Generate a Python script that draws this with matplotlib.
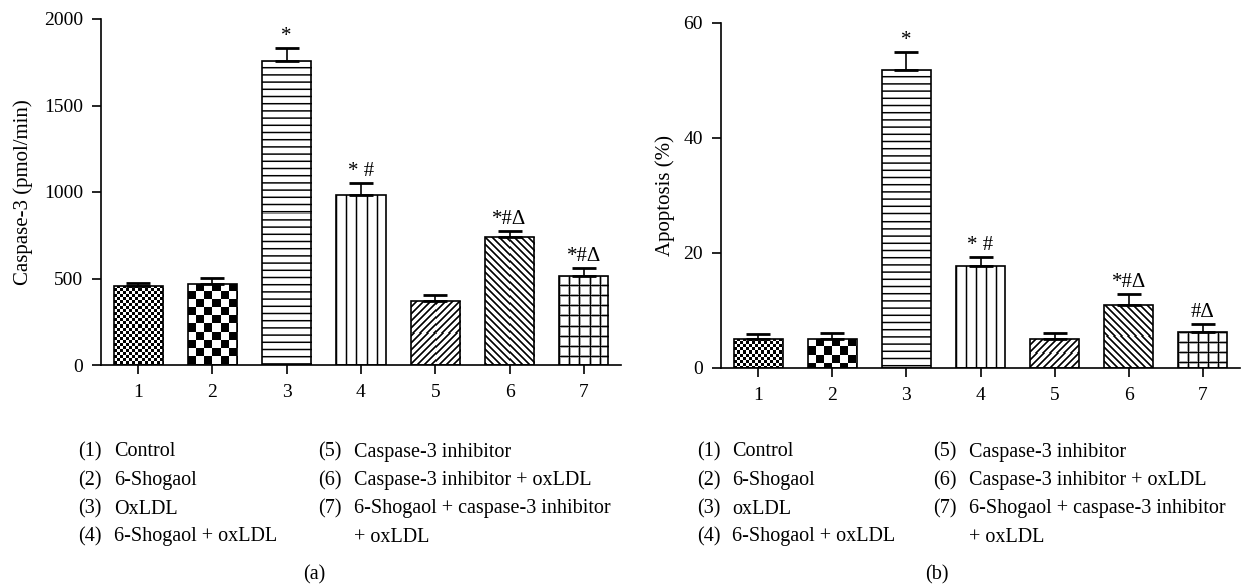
import numpy as np
import matplotlib
matplotlib.use("Agg")
import matplotlib.pyplot as plt

# ---------------- data ----------------
groups = ["1", "2", "3", "4", "5", "6", "7"]
caspase3 = [458, 471, 1760, 981, 371, 738, 517]
caspase3_err = [18, 31, 71, 69, 34, 36, 42]
caspase3_marks = ["", "", "*", "* #", "", "*#\u0394", "*#\u0394"]

apoptosis = [5.1, 5.1, 51.8, 17.8, 5.1, 11.0, 6.2]
apoptosis_err = [0.8, 0.9, 3.1, 1.5, 0.9, 1.9, 1.4]
apoptosis_marks = ["", "", "*", "* #", "", "*#\u0394", "#\u0394"]

legend_a = ["Control", "6-Shogaol", "OxLDL", "6-Shogaol + oxLDL",
            "Caspase-3 inhibitor", "Caspase-3 inhibitor + oxLDL",
            "6-Shogaol + caspase-3 inhibitor", "+ oxLDL"]
legend_b = ["Control", "6-Shogaol", "oxLDL", "6-Shogaol + oxLDL",
            "Caspase-3 inhibitor", "Caspase-3 inhibitor + oxLDL",
            "6-Shogaol + caspase-3 inhibitor", "+ oxLDL"]

patterns = ["checker_fine", "checker_coarse", "hlines", "vlines",
            "diag_up", "diag_down", "grid"]

FONT = ["Liberation Serif", "DejaVu Serif"]
plt.rcParams["font.family"] = FONT

W, H = 1241, 588
fig = plt.figure(figsize=(W / 100, H / 100), dpi=100)


def coverage(d, t=1.5):
    return np.clip(t / 2 + 0.5 - d, 0, 1)


def make_pattern(kind, w, h):
    jj, ii = np.meshgrid(np.arange(w) + 0.5, np.arange(h) + 0.5)
    if kind == "checker_fine":
        c = 3
        return ((np.floor(ii / c) + np.floor(jj / c)) % 2).astype(float)
    if kind == "checker_coarse":
        c = 8
        return ((np.floor(ii / c) + np.floor(jj / c)) % 2).astype(float)
    if kind == "hlines":
        s = 7.2
        p = (ii - 0.5) % s
        return coverage(np.minimum(p, s - p))
    if kind == "vlines":
        s = 10.0
        p = (jj - 0.5) % s
        return coverage(np.minimum(p, s - p))
    if kind == "diag_up":
        s = 7.0
        p = (jj + ii) % s
        return coverage(np.minimum(p, s - p) / np.sqrt(2), 1.8)
    if kind == "diag_down":
        s = 7.0
        p = (jj - ii) % s
        return coverage(np.minimum(p, s - p) / np.sqrt(2), 1.8)
    if kind == "grid":
        s = 10.0
        p1 = (jj - 0.5) % s
        p2 = (ii - 0.5) % s
        a = coverage(np.minimum(p1, s - p1), 1.7)
        b = coverage(np.minimum(p2, s - p2), 1.7)
        return np.maximum(a, b)
    return np.zeros((h, w))


def panel(rect, values, errs, marks, ylim, yticks, ylabel):
    ax = fig.add_axes(rect)
    x = np.arange(1, len(values) + 1)
    bars = ax.bar(x, values, width=0.66, facecolor="none", edgecolor="black",
                  linewidth=1.2, zorder=3)
    ax.errorbar(x, values, yerr=[np.zeros(len(errs)), errs], fmt="none",
                ecolor="black", elinewidth=1.2, capsize=8.5, capthick=2.0,
                zorder=2)
    ax.set_xlim(0.5, len(values) + 0.5)
    ax.set_ylim(*ylim)
    for patch, kind in zip(bars.patches, patterns):
        bb = patch.get_window_extent()
        w = max(int(round(bb.width)), 1)
        h = max(int(round(bb.height)), 1)
        arr = make_pattern(kind, w, h)
        x0, y0 = patch.get_x(), patch.get_y()
        im = ax.imshow(arr, extent=(x0, x0 + patch.get_width(), y0,
                                    y0 + patch.get_height()),
                       cmap="gray_r", vmin=0, vmax=1, interpolation="nearest",
                       aspect="auto", zorder=1)
        im.set_clip_path(patch)
    ax.set_xlim(0.5, len(values) + 0.5)
    ax.set_ylim(*ylim)
    for xi, v, e, m in zip(x, values, errs, marks):
        if m:
            ax.annotate(m, xy=(xi, v + e), xytext=(0, 1.5),
                        textcoords="offset points", ha="center", va="bottom",
                        fontsize=15, family=FONT)
    ax.set_xticks(x)
    ax.set_xticklabels(groups)
    ax.set_yticks(yticks)
    for s in ["top", "right"]:
        ax.spines[s].set_visible(False)
    for s in ["left", "bottom"]:
        ax.spines[s].set_linewidth(1.2)
    ax.tick_params(axis="both", length=6.5, width=1.2, labelsize=14,
                   direction="out")
    ax.tick_params(axis="x", pad=7)
    ax.tick_params(axis="y", pad=6.5)
    ax.set_ylabel(ylabel, fontsize=15)
    ax.patch.set_alpha(0)
    return ax


ax_a = panel([101 / W, 1 - 365 / H, 520 / W, 346 / H], caspase3, caspase3_err,
             caspase3_marks, (0, 2000), [0, 500, 1000, 1500, 2000],
             "Caspase-3 (pmol/min)")
ax_b = panel([721 / W, 1 - 368 / H, 519 / W, 345.5 / H], apoptosis,
             apoptosis_err, apoptosis_marks, (0, 60), [0, 20, 40, 60],
             "Apoptosis (%)")
ax_a.yaxis.set_label_coords(-0.13, 0.5)
ax_b.yaxis.set_label_coords(-0.089, 0.5)

rows = [452, 481, 509, 537]


def legend(items, num_x, txt_x, num_x2, txt_x2, cap_x, cap):
    fs = 14.5
    for k in range(4):
        fig.text(num_x / W, 1 - rows[k] / H, "(%d)" % (k + 1), fontsize=fs,
                 va="center", ha="left")
        fig.text(txt_x / W, 1 - rows[k] / H, items[k], fontsize=fs,
                 va="center", ha="left")
    for k in range(3):
        fig.text(num_x2 / W, 1 - rows[k] / H, "(%d)" % (k + 5), fontsize=fs,
                 va="center", ha="left")
        fig.text(txt_x2 / W, 1 - rows[k] / H, items[4 + k], fontsize=fs,
                 va="center", ha="left")
    fig.text(txt_x2 / W, 1 - rows[3] / H, items[7], fontsize=fs,
             va="center", ha="left")
    fig.text(cap_x / W, 1 - 575 / H, cap, fontsize=fs, va="center",
             ha="center")


legend(legend_a, 78, 114, 318, 354, 314, "(a)")
legend(legend_b, 697, 732, 933, 969, 937, "(b)")

fig.savefig("out.png", dpi=100, facecolor="white")
